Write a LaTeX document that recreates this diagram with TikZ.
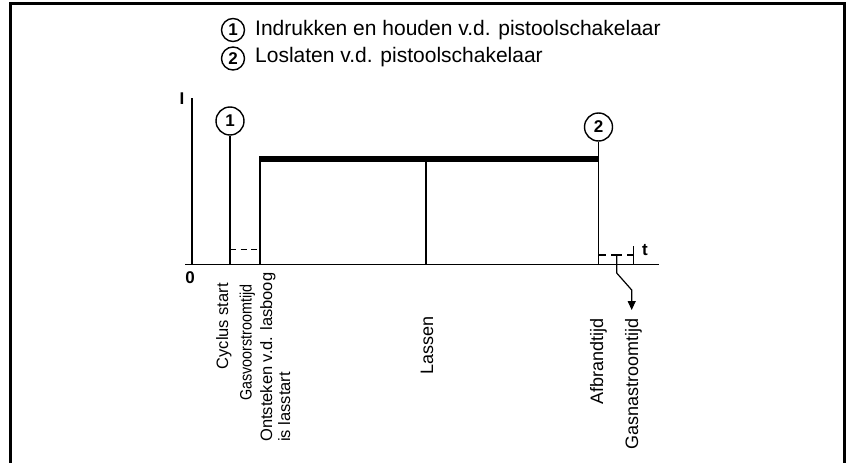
\documentclass[tikz,border=0pt]{standalone}
\usepackage{fontspec}
\setmainfont{Liberation Sans}
\newfontfamily\condsans[FakeStretch=0.87]{Liberation Sans}
\usetikzlibrary{arrows.meta}
\begin{document}
\begin{tikzpicture}[x=1pt,y=-1pt,
  ln/.style={line width=1.6pt},
  dig/.style={circle,draw,line width=1.4pt,inner sep=0pt,font=\fontsize{17}{17}\selectfont\bfseries},
  legtxt/.style={anchor=base west,inner sep=0pt,font=\fontsize{21}{24}\selectfont},
  axlbl/.style={anchor=base,inner sep=0pt,font=\fontsize{17}{17}\selectfont\bfseries},
  lblL/.style={rotate=90,inner sep=0pt,font=\fontsize{16.5}{19}\selectfont},
  lblR/.style={rotate=90,inner sep=0pt,font=\fontsize{18}{21}\selectfont}]
\useasboundingbox (0,0) rectangle (846,463);
\fill[white] (0,0) rectangle (846,463);
% frame
\draw[line width=3pt] (10.5,480) -- (10.5,3.5) -- (844.5,3.5) -- (844.5,480);
% legend
\node[dig,minimum size=23pt] (l1) at (233,30) {1};
\node[dig,minimum size=23pt] (l2) at (233,58.5) {2};
\node[legtxt] (t1) at (255,35.7) {Indrukken en houden v.d. pistoolschakelaar};
\node[legtxt] (t2) at (255,62.7) {Loslaten v.d. pistoolschakelaar};
% axes
\coordinate (o) at (191.7,264.3);
\coordinate (ytop) at (191.7,98);
\coordinate (xl) at (185,264.3);
\coordinate (xr) at (659,264.3);
\draw[ln] (ytop) -- (o);
\draw[ln] (xl) -- (xr);
\node[axlbl] (lI) at (182,104) {I};
\node[axlbl] (l0) at (190,283) {0};
\node[axlbl] (lt) at (645,255) {t};
% markers
\node[dig,minimum size=28pt] (c1) at (230,121) {1};
\node[dig,minimum size=28pt] (c2) at (598.5,127) {2};
\draw[ln] (c1.south) -- (c1.south |- o);
\draw[ln] (c2.south) -- (c2.south |- o);
% welding current
\coordinate (a1) at (260,156);
\coordinate (a2) at (260,264.3);
\draw[ln] (a1) -- (a2);
\draw[line width=6pt] (259.2,159) -- (599.3,159);
\coordinate (m1) at (426,159);
\coordinate (m2) at (426,264.3);
\draw[line width=1.4pt] (m1) -- (m2);
% gas pre-flow
\draw[ln,dash pattern=on 6pt off 4.5pt] (230,249.3) -- (260,249.3);
% gas post-flow
\draw[ln] (598.5,254.7) -- (605.5,254.7);
\draw[ln] (611,254.7) -- (622,254.7);
\draw[ln] (627,254.7) -- (633.3,254.7);
\coordinate (e1) at (633.3,246);
\coordinate (e2) at (633.3,264.3);
\draw[ln] (e1) -- (e2);
\coordinate (p0) at (616.7,254.7);
\coordinate (p1) at (616.7,273);
\coordinate (p2) at (631.7,290);
\coordinate (p3) at (631.7,310);
\draw[line width=1.2pt,-{Triangle[width=8pt,length=9pt]}] (p0) -- (p1) -- (p2) -- (p3);
% rotated labels
\node[lblL,anchor=base east] (s1) at (228,283) {Cyclus start};
\node[lblL,anchor=base east,font=\fontsize{16.5}{19}\condsans] (s2) at (251.7,284) {Gasvoorstroomtijd};
\node[lblL,anchor=base west] (s3) at (272,442) {Ontsteken v.d. lasboog};
\node[lblL,anchor=base west] (s4) at (290,442) {is lasstart};
\node[lblR,anchor=base east] (s5) at (433,316) {Lassen};
\node[lblR,anchor=base east] (s6) at (603,318) {Afbrandtijd};
\node[lblR,anchor=base east] (s7) at (638,318) {Gasnastroomtijd};
\end{tikzpicture}
\end{document}
